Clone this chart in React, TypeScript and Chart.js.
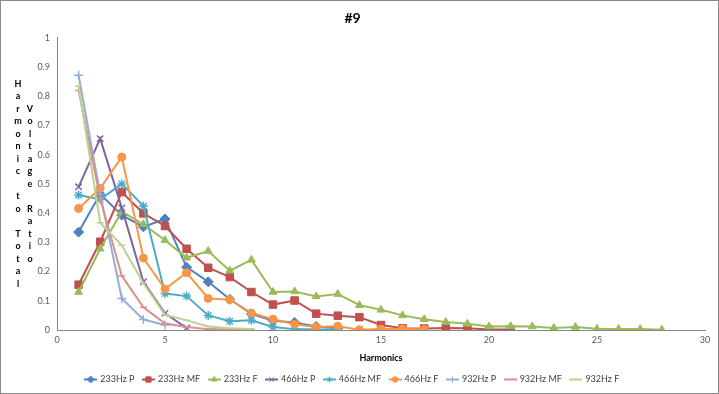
import React, { useEffect, useRef } from 'react';
import { Chart, registerables } from 'chart.js';
import { drawPoint } from 'chart.js/helpers';

Chart.register(...registerables);

const chartTitle = '#9';
const xTitle = 'Harmonics';
const yTitleLines = ['Harmonic to Total', 'Voltage Ratio'];
const xTickValues = [0, 5, 10, 15, 20, 25, 30];
const yTickLabels = ['0', '0.1', '0.2', '0.3', '0.4', '0.5', '0.6', '0.7', '0.8', '0.9', '1'];

const seriesNames = ['233Hz P', '233Hz MF', '233Hz F', '466Hz P', '466Hz MF', '466Hz F', '932Hz P', '932Hz MF', '932Hz F'];

const p233 = [0.335, 0.465, 0.393, 0.353, 0.38, 0.215, 0.165, 0.105, 0.055, 0.032, 0.026, 0.012, 0.006];
const mf233 = [0.155, 0.302, 0.472, 0.399, 0.356, 0.278, 0.213, 0.181, 0.13, 0.087, 0.101, 0.056, 0.049, 0.044, 0.017, 0.006, 0.005, 0.007, 0.006, 0.002, 0.002];
const f233 = [0.13, 0.278, 0.405, 0.362, 0.307, 0.247, 0.27, 0.203, 0.24, 0.13, 0.132, 0.115, 0.123, 0.085, 0.069, 0.05, 0.037, 0.027, 0.021, 0.012, 0.013, 0.012, 0.007, 0.01, 0.004, 0.003, 0.003, 0.001];
const p466 = [0.49, 0.655, 0.418, 0.165, 0.057, 0.007];
const mf466 = [0.462, 0.447, 0.5, 0.424, 0.125, 0.116, 0.05, 0.03, 0.033, 0.01, 0.003, 0.002, 0.002];
const f466 = [0.416, 0.485, 0.592, 0.246, 0.14, 0.196, 0.108, 0.104, 0.058, 0.037, 0.02, 0.01, 0.013, 0.001, 0.003, 0.004, 0.002];
const p932 = [0.872, 0.465, 0.108, 0.036, 0.017];
const mf932 = [0.82, 0.45, 0.185, 0.078, 0.022, 0.01, 0.003, 0.002, 0.002];
const f932 = [0.835, 0.367, 0.29, 0.16, 0.052, 0.033, 0.012, 0.006, 0.003];

const seriesValues = [p233, mf233, f233, p466, mf466, f466, p932, mf932, f932];
const seriesColors = ['#4F81BD', '#C0504D', '#9BBB59', '#8064A2', '#4BACC6', '#F79646', '#94AEDA', '#DC8E8C', '#BCD190'];
const seriesMarkers = ['rectRot', 'rect', 'triangle', 'crossRot', 'star', 'circle', 'cross', 'line', 'line'];
const markerRadius = [5, 5.3, 4.5, 4.5, 4.5, 4, 4.5, 3.5, 3.5];
const FONT = 'Lato, "Open Sans", sans-serif';

function makeLegendImage(i: number) {
  const c = document.createElement('canvas');
  c.width = 13;
  c.height = 9;
  const ctx = c.getContext('2d')!;
  ctx.strokeStyle = seriesColors[i];
  ctx.fillStyle = seriesColors[i];
  ctx.lineWidth = 2;
  ctx.beginPath();
  ctx.moveTo(0, 4.5);
  ctx.lineTo(13, 4.5);
  ctx.stroke();
  ctx.lineWidth = 1;
  drawPoint(ctx, { pointStyle: seriesMarkers[i] as any, radius: markerRadius[i] * 0.7, borderWidth: 1, rotation: 0 } as any, 6.5, 4.5);
  return c;
}

const frameAndTitle = {
  id: 'frameAndTitle',
  beforeDraw(chart: any) {
    const ctx = chart.ctx;
    ctx.save();
    ctx.fillStyle = '#ffffff';
    ctx.fillRect(0, 0, chart.width, chart.height);
    ctx.restore();
  },
  afterDraw(chart: any) {
    const ctx = chart.ctx;
    const area = chart.chartArea;
    ctx.save();
    ctx.strokeStyle = '#8a8a8a';
    ctx.lineWidth = 1;
    ctx.strokeRect(0.5, 0.5, chart.width - 1, chart.height - 1);
    ctx.font = `bold 9px ${FONT}`;
    ctx.fillStyle = '#000';
    ctx.textAlign = 'center';
    ctx.textBaseline = 'middle';
    const cy = (area.top + area.bottom) / 2;
    const colX = [18, 30];
    const step = 12.5;
    yTitleLines.forEach((line, li) => {
      const chars = Array.from(line);
      const start = cy - ((chars.length - 1) * step) / 2;
      chars.forEach((ch, k) => {
        if (ch !== ' ') ctx.fillText(ch, colX[li], start + k * step);
      });
    });
    ctx.restore();
  },
};

export default function App() {
  const ref = useRef<HTMLCanvasElement>(null);
  useEffect(() => {
    if (!ref.current) return;
    const legendImgs = seriesNames.map((_, i) => makeLegendImage(i));
    const datasets = seriesNames.map((name, i) => {
      const open = ['crossRot', 'star', 'cross', 'line'].includes(seriesMarkers[i]);
      return {
        label: name,
        data: seriesValues[i].map((v, k) => ({ x: k + 1, y: v })),
        borderColor: seriesColors[i],
        backgroundColor: seriesColors[i],
        borderWidth: 2,
        pointStyle: seriesMarkers[i],
        pointRadius: markerRadius[i],
        pointBorderWidth: open ? 1.5 : 1,
        pointBackgroundColor: seriesColors[i],
        pointBorderColor: seriesColors[i],
        tension: 0,
        order: seriesNames.length - i,
      };
    });
    const chart = new Chart(ref.current, {
      type: 'line',
      data: { datasets },
      plugins: [frameAndTitle],
      options: {
        animation: false,
        responsive: false,
        events: [],
        layout: { padding: { left: 0, right: 14, top: 0, bottom: 0 } },
        plugins: {
          title: {
            display: true,
            text: chartTitle,
            color: '#000',
            font: { family: FONT, size: 14, weight: 'bold' },
            padding: { top: 10, bottom: 11 },
          },
          legend: {
            position: 'bottom',
            labels: {
              usePointStyle: true,
              pointStyleWidth: 10,
              boxHeight: 9,
              padding: 9,
              color: '#404040',
              font: { family: FONT, size: 9 },
              sort: (a: any, b: any) => a.datasetIndex - b.datasetIndex,
              generateLabels: (c: any) => {
                const items = Chart.defaults.plugins.legend.labels.generateLabels(c);
                items.forEach((it: any) => {
                  it.pointStyle = legendImgs[it.datasetIndex];
                });
                return items;
              },
            },
          },
          tooltip: { enabled: false },
        },
        scales: {
          x: {
            type: 'linear',
            min: 0,
            max: 30,
            afterBuildTicks: (s: any) => {
              s.ticks = xTickValues.map((v) => ({ value: v }));
            },
            ticks: { color: '#595959', font: { family: FONT, size: 9 }, padding: 5, maxRotation: 0 },
            grid: { display: false, drawTicks: false },
            border: { display: true, color: '#868686', width: 1 },
            title: {
              display: true,
              text: xTitle,
              color: '#000',
              font: { family: FONT, size: 9, weight: 'bold' },
              padding: { top: 0, bottom: 3 },
            },
            afterFit: (s: any) => {
              s.height = 36;
            },
          },
          y: {
            type: 'linear',
            min: 0,
            max: 1,
            ticks: {
              stepSize: 0.1,
              color: '#595959',
              font: { family: FONT, size: 9 },
              padding: 7,
              callback: (_v: any, i: number) => yTickLabels[i],
            },
            grid: { display: false, drawTicks: false },
            border: { display: true, color: '#868686', width: 1 },
            afterFit: (s: any) => {
              s.width = 57;
            },
          },
        },
      } as any,
    });
    return () => chart.destroy();
  }, []);
  return (
    <div style={{ position: 'fixed', left: 0, top: 0, width: 719, height: 394, background: '#fff' }}>
      <canvas ref={ref} width={719} height={394} style={{ display: 'block', width: 719, height: 394 }} />
    </div>
  );
}
